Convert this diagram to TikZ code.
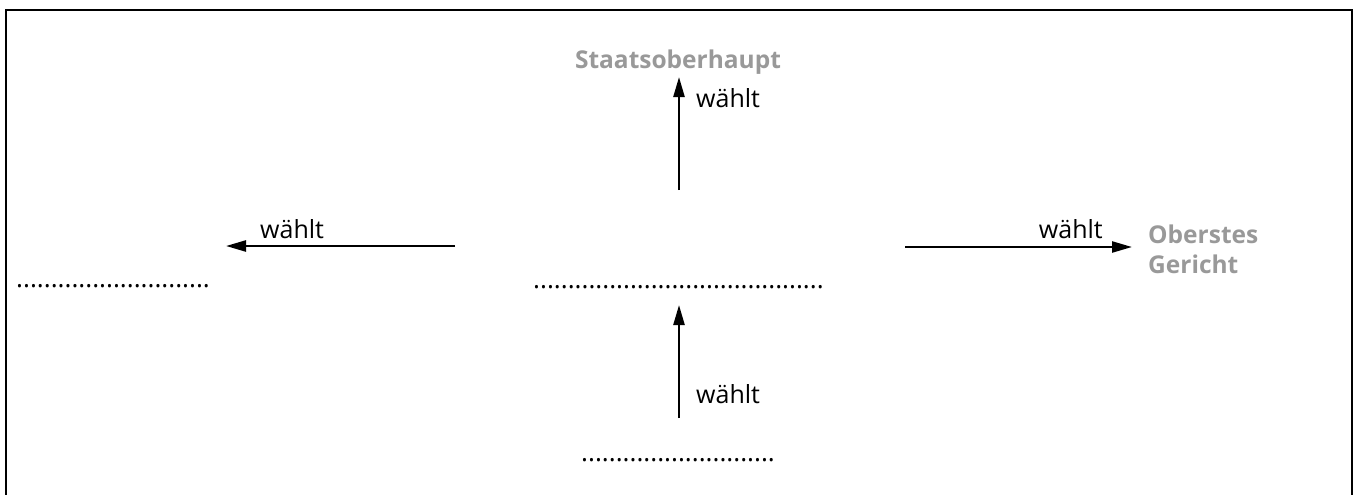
\documentclass[tikz,border=0pt]{standalone}
\usepackage{fontspec}
\setmainfont{Open Sans}
\usetikzlibrary{arrows.meta}
\definecolor{headgray}{HTML}{999999}
\tikzset{
  lbl/.style={font=\fontsize{25}{30}\selectfont, inner sep=0pt, text=black},
  head/.style={font=\fontsize{24.5}{30}\selectfont\bfseries, inner sep=0pt, text=headgray},
  blank/.style={font=\fontsize{26}{30}\selectfont, inner sep=0pt},
  vote/.style={line width=2.4pt, -{Triangle[length=20pt,width=11pt]}},
  frame/.style={line width=2pt}
}
\begin{document}
\begin{tikzpicture}[x=1pt,y=-1pt]
\useasboundingbox (0,0) rectangle (1357,495);
% open frame
\draw[frame] (6,495) -- (6,10) -- (1352,10) -- (1352,495);

% heads
\node[head, anchor=base] (staat) at (678,68) {Staatsoberhaupt};
\node[head, anchor=base west, align=left] (gericht) at (1148,273) {Oberstes\\Gericht};

% placeholders
\node[blank, anchor=base west] (links) at (16,287) {............................};
\node[blank, anchor=base west] (mitte) at (533,288) {..........................................};
\node[blank, anchor=base west] (unten) at (581,461) {............................};

% arrow end points
\coordinate (topS) at (679,190);
\coordinate (topE) at (679,77);
\coordinate (leftS) at (455,246);
\coordinate (leftE) at (226,246);
\coordinate (rightS) at (905,247);
\coordinate (rightE) at (1132,247);
\coordinate (botS) at (679,418);
\coordinate (botE) at (679,305);

\draw[vote] (topS) -- (topE);
\draw[vote] (leftS) -- (leftE);
\draw[vote] (rightS) -- (rightE);
\draw[vote] (botS) -- (botE);

% labels
\node[lbl, anchor=base west] (l1) at (696,107) {wählt};
\node[lbl, anchor=base west] (l2) at (260,238) {wählt};
\node[lbl, anchor=base east] (l3) at (1103,238) {wählt};
\node[lbl, anchor=base west] (l4) at (696,403) {wählt};
\end{tikzpicture}
\end{document}
